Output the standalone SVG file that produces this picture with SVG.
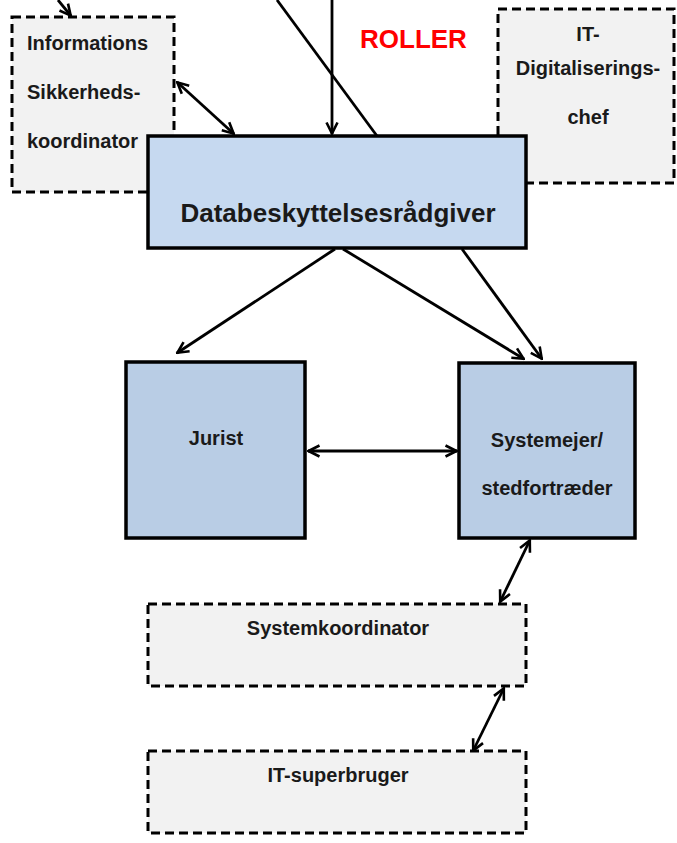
<svg xmlns="http://www.w3.org/2000/svg" width="677" height="843" viewBox="0 0 677 843">
<style>
.dash{fill:#f2f2f2;stroke:#000;stroke-width:3;stroke-dasharray:9 5}
.solid{stroke:#000;stroke-width:3.5}
.blue1{fill:#c6d9f0}
.blue2{fill:#b9cde5}
.lbl{font-family:"Liberation Sans",Arial,sans-serif;font-weight:bold;font-size:20px;fill:#1a1a1a}
.big{font-size:26px}
.red{font-family:"Liberation Sans",Arial,sans-serif;font-weight:bold;font-size:26px;fill:#ff0000}
.c{text-anchor:middle}
.ln{fill:none;stroke:#000;stroke-width:2.8}
</style>
<defs>
<marker id="arr" viewBox="0 0 14 14" refX="13" refY="7" markerWidth="14" markerHeight="14" markerUnits="userSpaceOnUse" orient="auto-start-reverse">
<path d="M1.5,1.5 L12.5,7 L1.5,12.5" fill="none" stroke="#000" stroke-width="2.6"/>
</marker>
</defs>
<g id="info">
<rect class="dash" x="12" y="17" width="162" height="175"/>
<text class="lbl" x="27" y="50">Informations</text>
<text class="lbl" x="27" y="99">Sikkerheds-</text>
<text class="lbl" x="27" y="148">koordinator</text>
</g>
<g id="itchef">
<rect class="dash" x="498" y="9" width="176" height="174"/>
<text class="lbl c" x="588" y="41">IT-</text>
<text class="lbl c" x="588" y="75">Digitaliserings-</text>
<text class="lbl c" x="588" y="124">chef</text>
</g>
<g id="roller">
<text class="red" x="360" y="48">ROLLER</text>
</g>
<g id="connectors">
<line class="ln" x1="58" y1="0" x2="71" y2="16" marker-end="url(#arr)"/>
<line class="ln" x1="177" y1="82" x2="234" y2="134" marker-start="url(#arr)" marker-end="url(#arr)"/>
<line class="ln" x1="332" y1="0" x2="332" y2="134" marker-end="url(#arr)"/>
<line class="ln" x1="277" y1="0" x2="377" y2="136"/>
<line class="ln" x1="335" y1="249" x2="177" y2="353" marker-end="url(#arr)"/>
<line class="ln" x1="343" y1="249" x2="524" y2="359" marker-end="url(#arr)"/>
<line class="ln" x1="462" y1="249" x2="542" y2="359" marker-end="url(#arr)"/>
<line class="ln" x1="308" y1="451" x2="457" y2="451" marker-start="url(#arr)" marker-end="url(#arr)"/>
<line class="ln" x1="530" y1="540" x2="500" y2="602" marker-start="url(#arr)" marker-end="url(#arr)"/>
<line class="ln" x1="504" y1="688" x2="473" y2="751" marker-start="url(#arr)" marker-end="url(#arr)"/>
</g>
<g id="dpo">
<rect class="solid blue1" x="148" y="136" width="378" height="112"/>
<text class="lbl big c" x="338" y="222">Databeskyttelsesrådgiver</text>
</g>
<g id="jurist">
<rect class="solid blue2" x="126" y="362" width="179" height="176"/>
<text class="lbl c" x="216" y="445">Jurist</text>
</g>
<g id="systemejer">
<rect class="solid blue2" x="459" y="363" width="176" height="175"/>
<text class="lbl c" x="547" y="447">Systemejer/</text>
<text class="lbl c" x="547" y="495">stedfortræder</text>
</g>
<g id="systemkoordinator">
<rect class="dash" x="148" y="604" width="378" height="82"/>
<text class="lbl c" x="338" y="635">Systemkoordinator</text>
</g>
<g id="itsuperbruger">
<rect class="dash" x="148" y="751" width="378" height="82"/>
<text class="lbl c" x="338" y="782">IT-superbruger</text>
</g>
</svg>
